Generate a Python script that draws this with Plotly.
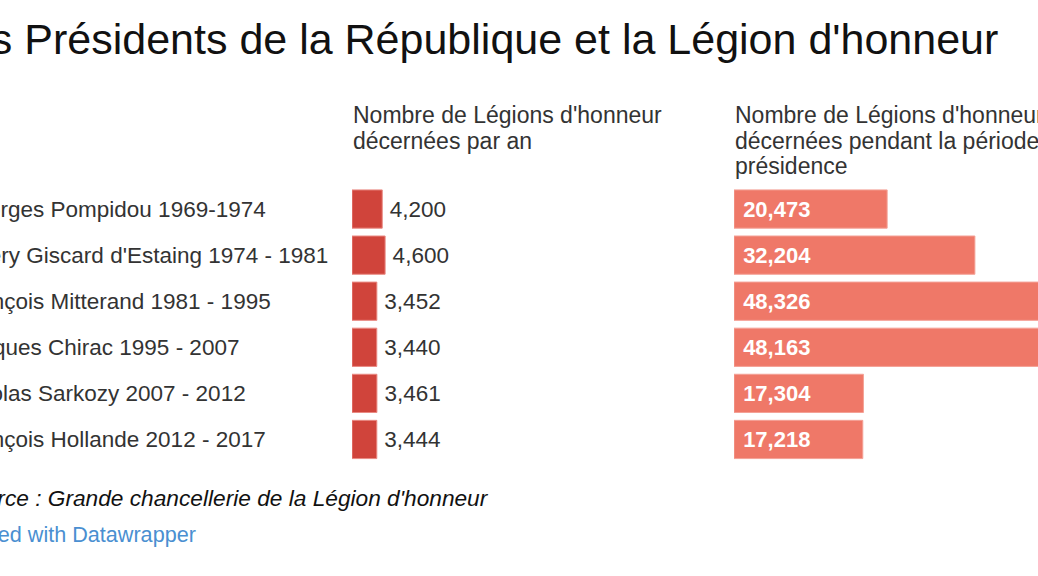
import plotly.graph_objects as go

presidents = [
    "Georges Pompidou 1969-1974",
    "Valéry Giscard d'Estaing 1974 - 1981",
    "François Mitterand 1981 - 1995",
    "Jacques Chirac 1995 - 2007",
    "Nicolas Sarkozy 2007 - 2012",
    "François Hollande 2012 - 2017",
]
per_year = [4200, 4600, 3452, 3440, 3461, 3444]
per_term = [20473, 32204, 48326, 48163, 17304, 17218]

title = "Les Présidents de la République et la Légion d'honneur"
header_left = ["Nombre de Légions d'honneur", "décernées par an"]
header_right = ["Nombre de Légions d'honneur", "décernées pendant la période de", "présidence"]
source = "<i>Source : Grande chancellerie de la Légion d'honneur</i>"
credit = "Created with Datawrapper"

W, H = 1038, 576
FONT = "Liberation Sans"
TXT = "#333333"

fig = go.Figure()
fig.add_trace(go.Bar(
    x=per_year, y=presidents, orientation="h", xaxis="x", yaxis="y",
    marker=dict(color="#d0443b", line=dict(color="#e98a83", width=1)),
    text=per_year, texttemplate="\u2009%{x:,}", textposition="outside",
    textfont=dict(family=FONT, size=22.5, color=TXT), cliponaxis=False,
    hoverinfo="skip",
))
fig.add_trace(go.Bar(
    x=per_term, y=presidents, orientation="h", xaxis="x2", yaxis="y",
    marker=dict(color="#ef7868", line=dict(color="#f4a196", width=1)),
    text=per_term, texttemplate="\u00a0<b>%{x:,}</b>", textposition="inside",
    insidetextanchor="start", constraintext="none",
    textfont=dict(family=FONT, size=22, color="white"),
    hoverinfo="skip",
))

y_top = 186
y_bot = 462.5
fig.update_layout(
    width=W, height=H,
    margin=dict(l=0, r=0, t=0, b=0),
    paper_bgcolor="white", plot_bgcolor="white",
    showlegend=False, bargap=0.17,
    font=dict(family=FONT, color=TXT),
    xaxis=dict(domain=[352 / W, 700 / W], range=[0, 348 / 0.0072],
               visible=False, fixedrange=True),
    xaxis2=dict(domain=[734 / W, 1], range=[0, 304 / 0.00748],
                visible=False, fixedrange=True),
    yaxis=dict(domain=[(H - y_bot) / H, (H - y_top) / H],
               autorange="reversed", showticklabels=False,
               showgrid=False, zeroline=False, fixedrange=True),
)

# Row labels (left-aligned, start just off the left edge as in the cropped original)
for p in presidents:
    fig.add_annotation(x=-44 / W, xref="paper", y=p, yref="y",
                       text=p, showarrow=False, xanchor="left",
                       font=dict(family=FONT, size=22.5, color=TXT))

def ann(text, x, y, anchor, size, color):
    fig.add_annotation(x=x / W, y=1 - y / H, xref="paper", yref="paper",
                       text=text, showarrow=False, xanchor=anchor, yanchor="middle",
                       align="left", font=dict(family=FONT, size=size, color=color))

ann(title, 1000, 38.5, "right", 43, "#111111")
for i, line in enumerate(header_left):
    ann(line, 351, 115 + 25.5 * i, "left", 23, TXT)
for i, line in enumerate(header_right):
    ann(line, 733, 115 + 25.5 * i, "left", 23, TXT)
ann(source, 491, 498, "right", 22.7, "#111111")
ann(credit, 198, 534, "right", 21.6, "#4a8fd1")

fig.write_html("out.html", config=dict(displayModeBar=False),
               post_script="document.body.style.margin='0';document.body.style.overflow='hidden';")
